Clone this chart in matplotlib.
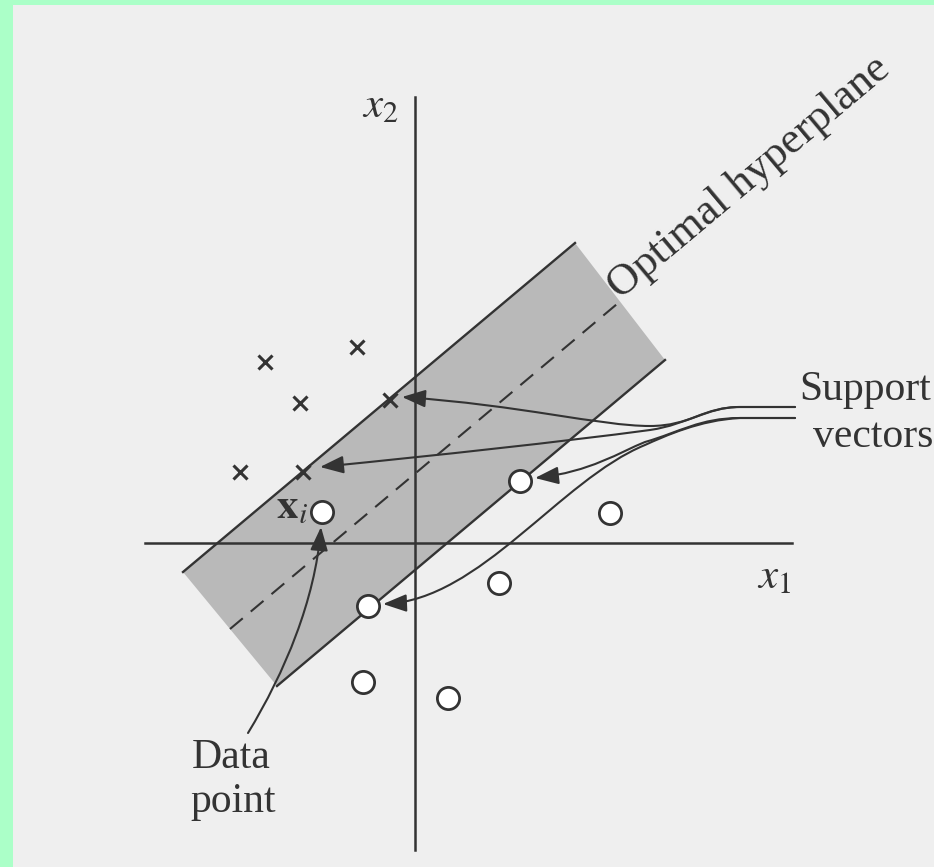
import matplotlib.pyplot as plt
import matplotlib.patches as mpatches
from matplotlib.path import Path

plt.rcParams['font.family'] = ['Liberation Serif', 'DejaVu Serif']
plt.rcParams['mathtext.fontset'] = 'stix'

INK = '#333333'
PAPER = '#efefef'
BAND = '#b9b9b9'

# sample points (page pixel coordinates)
cross_x = [265, 357, 300, 390, 240, 303]
cross_y = [362, 347, 403, 400, 472, 472]
circle_x = [322, 520, 610, 499, 368, 363, 448]
circle_y = [512, 481, 513, 583, 606, 682, 698]

# margin band: corners going round
band_x = [183, 575, 665, 277]
band_y = [572, 243, 360, 686]

# coordinate axes
x1_axis = ([145, 792], [543, 543])
x2_axis = ([415, 415], [97, 850])

fig = plt.figure(figsize=(9.34, 8.67), dpi=100, facecolor='#abffc8')
ax = fig.add_axes([0, 0, 1, 1])
ax.set_xlim(0, 934)
ax.set_ylim(867, 0)
ax.axis('off')

ax.add_patch(mpatches.Rectangle((13, 5), 934 - 13, 867 - 5, facecolor=PAPER,
                                edgecolor='none', zorder=0))

# band between the two margins
ax.add_patch(mpatches.Polygon(list(zip(band_x, band_y)), closed=True,
                              facecolor=BAND, edgecolor='none', zorder=1))
ax.plot([band_x[0], band_x[1]], [band_y[0], band_y[1]], color=INK, lw=1.7, zorder=2)
ax.plot([band_x[3], band_x[2]], [band_y[3], band_y[2]], color=INK, lw=1.7, zorder=2)
mid_x = [(band_x[0] + band_x[3]) / 2, (band_x[1] + band_x[2]) / 2]
mid_y = [(band_y[0] + band_y[3]) / 2, (band_y[1] + band_y[2]) / 2]
ax.plot(mid_x, mid_y, color=INK, lw=1.5, dashes=(8, 5), zorder=2)

ax.plot(*x1_axis, color=INK, lw=1.8, zorder=3)
ax.plot(*x2_axis, color=INK, lw=1.8, zorder=3)

ax.plot(cross_x, cross_y, 'x', color=INK, ms=10, mew=2.2, zorder=4)
ax.plot(circle_x, circle_y, 'o', mfc='white', mec=INK, ms=16, mew=2, zorder=4)

# leader arrows
M, L, C = Path.MOVETO, Path.LINETO, Path.CURVE4
leaders = [
    ([(795, 407), (740, 407), (705, 407), (690, 426), (650, 426),
      (600, 426), (520, 405), (402, 397)], [M, L, C, C, C, C, C, C]),
    ([(795, 407), (740, 407), (705, 407), (690, 424), (650, 430),
      (560, 442), (440, 455), (320, 467)], [M, L, C, C, C, C, C, C]),
    ([(795, 418), (740, 418), (700, 418), (680, 432), (645, 442),
      (620, 452), (590, 472), (535, 478)], [M, L, C, C, C, C, C, C]),
    ([(795, 418), (740, 418), (700, 420), (665, 436), (645, 445),
      (560, 480), (480, 600), (383, 604)], [M, L, C, C, C, C, C, C]),
    ([(248, 733), (285, 672), (315, 600), (321, 527)], [M, C, C, C]),
]
for verts, codes in leaders:
    ax.add_patch(mpatches.FancyArrowPatch(
        path=Path(verts, codes), arrowstyle='-|>,head_length=0.8,head_width=0.3',
        mutation_scale=18, color=INK, lw=1.5, zorder=5))

# labels
ax.text(362, 117, r'$x_2$', fontsize=31, color=INK, ha='left', va='baseline')
ax.text(757, 588, r'$x_1$', fontsize=31, color=INK, ha='left', va='baseline')
ax.text(276, 518, r'$\mathbf{x}_i$', fontsize=31, color=INK, ha='left', va='baseline', zorder=6)
ax.text(620, 300, 'Optimal hyperplane', fontsize=32, color=INK, rotation=40,
        rotation_mode='anchor', ha='left', va='baseline')
ax.text(799, 400, 'Support', fontsize=30, color=INK, ha='left', va='baseline')
ax.text(813, 447, 'vectors', fontsize=30, color=INK, ha='left', va='baseline')
ax.text(192, 768, 'Data', fontsize=30, color=INK, ha='left', va='baseline')
ax.text(190, 812, 'point', fontsize=30, color=INK, ha='left', va='baseline')

fig.savefig('out.png', dpi=100, facecolor=fig.get_facecolor())
